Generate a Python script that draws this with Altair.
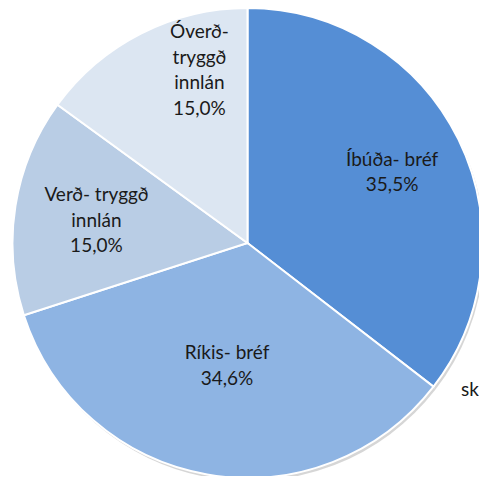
import altair as alt
import pandas as pd

categories = ["Íbúða- bréf", "Ríkis- bréf", "Verð- tryggð innlán", "Óverð- tryggð innlán"]
label_lines = ["Íbúða- bréf\n35,5%", "Ríkis- bréf\n34,6%", "Verð- tryggð\ninnlán\n15,0%", "Óverð-\ntryggð\ninnlán\n15,0%"]
values = [35.5, 34.6, 15.0, 15.0]
order = [0, 1, 2, 3]
colors = ["#558ED5", "#8EB4E3", "#B9CDE5", "#DCE6F2"]

df = pd.DataFrame({"cat": categories, "label": label_lines, "value": values, "idx": order})

CX, CY, R = 239.5, 235, 235
FONT = "Lato"
FS = 19
LH = 25.5

color_scale = alt.Scale(domain=categories, range=colors)

base = alt.Chart(df).encode(
    theta=alt.Theta("value:Q", stack=True),
    order=alt.Order("idx:Q"),
)

shadow = base.mark_arc(radius=R, color="#cfcfcf", opacity=0.85).encode(
    x=alt.value(CX + 2), y=alt.value(CY + 3)
)

pie = base.mark_arc(radius=R, stroke="white", strokeWidth=2).encode(
    color=alt.Color("cat:N", scale=color_scale, legend=None),
    x=alt.value(CX), y=alt.value(CY),
)

label_base = alt.Chart(df).transform_window(
    cum="sum(value)", sort=[alt.SortField("idx")], frame=[None, 0]
).transform_joinaggregate(
    total="sum(value)"
).transform_calculate(
    frac="(datum.cum - datum.value / 2) / datum.total",
    lr="datum.idx == 0 ? 160 : datum.idx == 1 ? 125 : datum.idx == 2 ? 153 : 181",
)

def label_layer(flt, dx, dy):
    return label_base.transform_filter(flt).mark_text(
        font=FONT, fontSize=FS, color="#1a1a1a", align="center", baseline="middle",
        lineBreak="\n", lineHeight=LH, dx=dx, dy=dy,
    ).encode(
        text="label:N",
        theta=alt.Theta("frac:Q", stack=None, scale=alt.Scale(domain=[0, 1])),
        radius=alt.Radius("lr:Q", scale=None),
        x=alt.value(CX), y=alt.value(CY),
    )

labels2 = label_layer("datum.idx < 2", 1, -LH / 2)
labels3 = label_layer("datum.idx == 2", 0, -LH + 2)
labels4 = label_layer("datum.idx == 3", 34, -11 - 1.5 * LH)

stray = alt.Chart(pd.DataFrame({"t": ["sk"]})).mark_text(
    font=FONT, fontSize=FS, color="#1a1a1a", align="left", baseline="middle"
).encode(text="t:N", x=alt.value(453), y=alt.value(382))

chart = alt.layer(shadow, pie, labels2, labels3, labels4, stray).resolve_scale(
    theta="independent"
).properties(
    width=471, height=468, padding=0, autosize=alt.AutoSizeParams(type="none")
).configure_view(stroke=None)

chart.save("out.html", embed_options={"renderer": "svg", "actions": False})
